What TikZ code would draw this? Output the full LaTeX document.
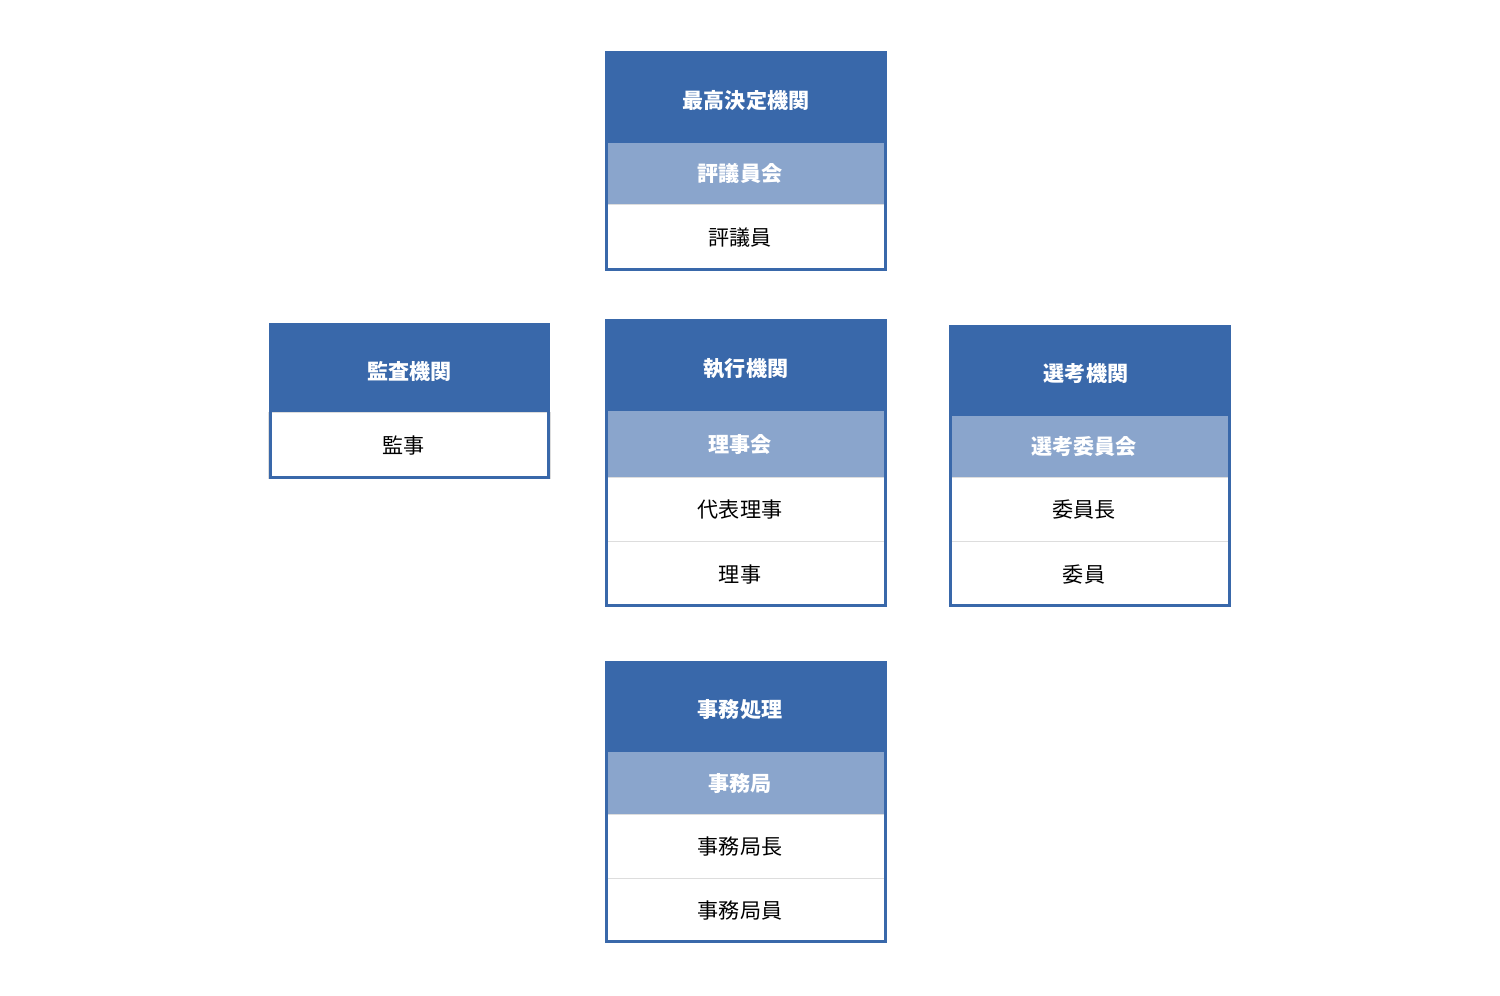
\documentclass[tikz,border=0pt]{standalone}
\usepackage{fontspec}
\setmainfont{Noto Sans CJK JP}
\usetikzlibrary{positioning,fit}

\definecolor{hdblue}{HTML}{3968AA}
\definecolor{subblue}{HTML}{8AA5CC}
\definecolor{sepgray}{HTML}{DDDDDD}

\begin{document}
\begin{tikzpicture}[x=0.02cm, y=-0.02cm,
  row/.style={minimum width=5.64cm, text width=5.64cm, minimum height=1.28cm, inner sep=0pt, outer sep=0pt, align=center, font=\fontsize{12}{14}\selectfont},
  head/.style={row, fill=hdblue, text=white, minimum height=1.84cm, text height=0.5cm, font=\fontsize{12}{14}\selectfont\bfseries},
  sub/.style={row, fill=subblue, text=white, font=\fontsize{12}{14}\selectfont\bfseries, execute at begin node={\hspace*{-0.24cm}}},
  member/.style={row, fill=white, draw=sepgray, line width=0.02cm, execute at begin node={\hspace*{-0.24cm}}},
  frame/.style={draw=hdblue, line width=0.06cm, inner sep=-0.03cm}]
  \useasboundingbox (0,0) rectangle (1500,995);

  % Decision body
  \node[head, anchor=north] (top) at (746,51) {最高決定機関};
  \node[sub, below=0pt of top, minimum height=1.24cm] (topsub) {評議員会};
  \node[member, below=0pt of topsub, minimum height=1.32cm] (topm1) {評議員};
  \node[frame, fit=(top)(topm1)] (topframe) {};

  % Audit body
  \node[head, anchor=north, minimum height=1.8cm] (audit) at (409.5,323) {監査機関};
  \node[member, below=0pt of audit, minimum height=1.32cm] (auditm1) {監事};
  \node[frame, fit=(audit)(auditm1)] (auditframe) {};

  % Executive body
  \node[head, anchor=north] (exec) at (746,319) {執行機関};
  \node[sub, below=0pt of exec, minimum height=1.34cm] (execsub) {理事会};
  \node[member, below=0pt of execsub] (execm1) {代表理事};
  \node[member, below=0pt of execm1, minimum height=1.3cm] (execm2) {理事};
  \node[frame, fit=(exec)(execm2)] (execframe) {};

  % Selection body
  \node[head, anchor=north, minimum height=1.82cm, execute at begin node={\hspace*{-0.16cm}}] (select) at (1090,325) {選考機関};
  \node[sub, below=0pt of select, minimum height=1.24cm] (selectsub) {選考委員会};
  \node[member, below=0pt of selectsub] (selectm1) {委員長};
  \node[member, below=0pt of selectm1, minimum height=1.3cm] (selectm2) {委員};
  \node[frame, fit=(select)(selectm2)] (selectframe) {};

  % Secretariat
  \node[head, anchor=north, minimum height=1.82cm, execute at begin node={\hspace*{-0.24cm}}] (office) at (746,661) {事務処理};
  \node[sub, below=0pt of office, minimum height=1.26cm] (officesub) {事務局};
  \node[member, below=0pt of officesub] (officem1) {事務局長};
  \node[member, below=0pt of officem1] (officem2) {事務局員};
  \node[frame, fit=(office)(officem2)] (officeframe) {};
\end{tikzpicture}
\end{document}
